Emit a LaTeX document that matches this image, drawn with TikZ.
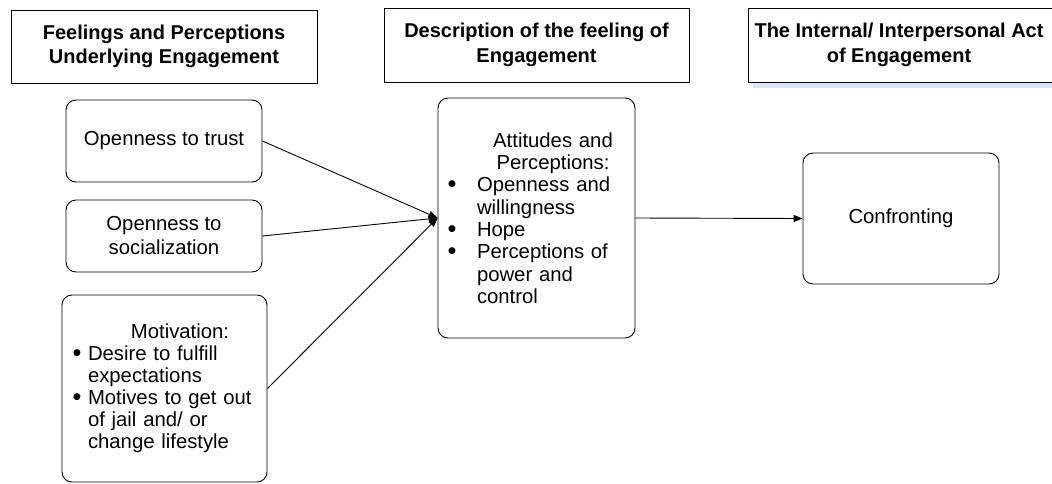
\documentclass[tikz,border=0pt]{standalone}
\usepackage{fontspec}
\usepackage{graphicx}
\setmainfont{Liberation Sans}
\usetikzlibrary{arrows.meta}
\definecolor{shadeblue}{RGB}{218,229,243}
% bullet with a fixed-width slot
\newcommand{\bl}[1]{\makebox[#1][l]{\hspace*{-1.5pt}\raisebox{-0.08ex}{\scalebox{1.25}{\textbullet}}}}
% a heading line centred on a given offset from the text's left edge
\newcommand{\ctr}[2]{\mbox{\hspace*{#1}\makebox[0pt]{#2}}}
\begin{document}
\begin{tikzpicture}[x=1pt,y=-1pt,
  body/.style={font=\fontsize{20.3}{23}\selectfont},
  hdr/.style={draw, line width=0.9pt, align=center, inner sep=0pt,
              font=\fontsize{20}{24.5}\selectfont\bfseries},
  rbox/.style={draw, line width=0.9pt, rounded corners=10pt, body},
  arr/.style={line width=0.9pt, -{Triangle[length=9pt,width=7pt]}}]
\useasboundingbox (0,0) rectangle (1052,483);

% column headings
\node[hdr, minimum width=306pt, minimum height=73pt] (h1) at (164,46.5)
  {Feelings and Perceptions\\Underlying Engagement};
\node[hdr, minimum width=305pt, minimum height=74pt] (h2) at (536.5,45)
  {Description of the feeling of\\Engagement};
\fill[shadeblue] (753,82.5) rectangle (1052,88);
\begin{scope}
\clip (0,0) rectangle (1052,483);
\node[hdr, fill=white, minimum width=320pt, minimum height=74pt] (h3) at (908,45)
  {The Internal/ Interpersonal Act\mbox{\hspace{18pt}}\\of Engagement\mbox{\hspace{18pt}}};
\end{scope}

% left column
\node[rbox, minimum width=196pt, minimum height=82pt, align=center] (trust) at (164,141)
  {Openness to trust};
\node[rbox, minimum width=196pt, minimum height=72pt, align=center,
      font=\fontsize{20.3}{24}\selectfont] (soc) at (164,236)
  {Openness to\\socialization};
\begin{scope}
\clip (0,0) rectangle (1052,483);
\node[rbox, minimum width=205pt, minimum height=187pt, text width=181pt,
      align=left, font=\fontsize{20.3}{22}\selectfont] (mot) at (164.5,388.5)
  {\ctr{106pt}{Motivation:}\\
   \mbox{\bl{14pt}Desire to fulfill}\\
   \mbox{\hspace*{14pt}expectations}\\
   \mbox{\bl{14pt}Motives to get out}\\
   \mbox{\hspace*{14pt}of jail and/ or}\\
   \mbox{\hspace*{14pt}change lifestyle}};
\end{scope}

% middle column
\node[rbox, minimum width=197pt, minimum height=240pt, text width=175pt,
      align=left, font=\fontsize{20.3}{22.3}\selectfont] (att) at (536.5,218)
  {\ctr{104pt}{Attitudes and}\\
   \ctr{104pt}{Perceptions:}\\
   \mbox{\bl{28pt}Openness and}\\
   \mbox{\hspace*{28pt}willingness}\\
   \mbox{\bl{28pt}Hope}\\
   \mbox{\bl{28pt}Perceptions of}\\
   \mbox{\hspace*{28pt}power and}\\
   \mbox{\hspace*{28pt}control}};

% right column
\node[rbox, minimum width=196pt, minimum height=131pt, align=center] (conf) at (901,218.5)
  {Confronting};

% connectors
\draw[arr] (trust.east) -- (att.west);
\draw[arr] (soc.east) -- (att.west);
\draw[arr] (mot.east) -- (att.west);
\draw[arr] (att.east) -- (conf.west);
\end{tikzpicture}
\end{document}
